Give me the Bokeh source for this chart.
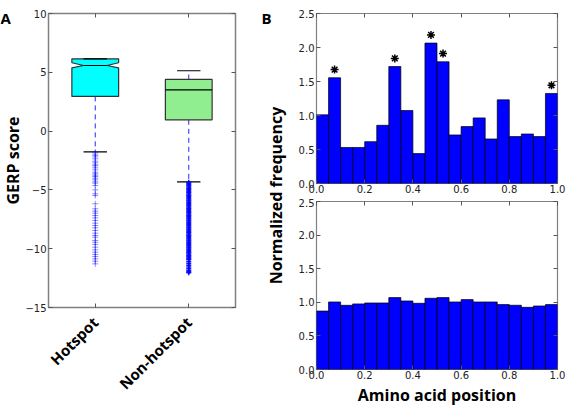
import math
from bokeh.plotting import figure
from bokeh.models import Range1d, FixedTicker, LinearAxis, NumeralTickFormatter, Label
from bokeh.layouts import row, column
from bokeh.embed import file_html
from bokeh.resources import INLINE
from bokeh.core.properties import value

# ---------------- Panel A data (GERP score box plots) ----------------
groups = ["Hotspot", "Non-hotspot"]
positions = [1, 2]
q1 = [2.95, 0.96]
medians = [5.58, 3.51]
q3 = [6.15, 4.39]
whisker_low = [-1.76, -4.32]
whisker_high = [6.15, 5.13]
notched = [True, False]
notch_low = [5.38, None]
notch_high = [5.81, None]
box_colors = ["#00FFFF", "#90EE90"]

hotspot_outliers = [-1.79, -1.95, -2.07, -2.2, -2.36, -2.56, -2.7, -2.87, -2.95, -3.12,
                    -3.29, -3.49, -3.63, -3.75, -3.86, -4.0, -4.14, -4.31, -4.43, -4.63,
                    -5.0, -5.33, -5.48, -6.18, -6.61, -6.81, -6.98, -7.18, -7.38, -7.6,
                    -7.83, -8.03, -8.22, -8.45, -8.68, -8.88, -9.02, -9.3, -9.45, -9.64,
                    -9.87, -10.1, -10.3, -10.49, -10.66, -10.86, -11.06, -11.29]
nonhotspot_outliers = [-4.35, -4.45, -4.55, -4.65, -4.75, -4.85, -4.95, -5.05, -5.15, -5.25,
                       -5.35, -5.45, -5.55, -5.65, -5.75, -5.85, -5.95, -6.05, -6.15, -6.25,
                       -6.35, -6.45, -6.55, -6.65, -6.75, -6.85, -6.95, -7.05, -7.15, -7.25,
                       -7.35, -7.45, -7.55, -7.65, -7.75, -7.85, -7.95, -8.05, -8.15, -8.25,
                       -8.35, -8.45, -8.55, -8.65, -8.75, -8.85, -8.95, -9.05, -9.15, -9.25,
                       -9.35, -9.45, -9.55, -9.65, -9.75, -9.85, -9.95, -10.05, -10.15, -10.25,
                       -10.35, -10.45, -10.55, -10.65, -10.75, -10.85, -10.95, -11.1, -11.25,
                       -11.4, -11.55, -11.7, -11.85, -11.95, -12.05]
gerp_ticks = [-15, -10, -5, 0, 5, 10]
gerp_tick_labels = ["\u221215", "\u221210", "\u22125", "0", "5", "10"]

# ---------------- Panel B data (normalized position histograms) ----------------
bin_edges = [0.0, 0.05, 0.1, 0.15, 0.2, 0.25, 0.3, 0.35, 0.4, 0.45, 0.5,
             0.55, 0.6, 0.65, 0.7, 0.75, 0.8, 0.85, 0.9, 0.95, 1.0]
hotspot_freq = [1.01, 1.555, 0.53, 0.53, 0.615, 0.856, 1.72, 1.073, 0.44, 2.065,
                1.79, 0.714, 0.837, 0.965, 0.655, 1.23, 0.69, 0.728, 0.69, 1.324]
background_freq = [0.87, 1.005, 0.955, 0.976, 0.99, 0.99, 1.07, 1.02, 0.985, 1.06,
                   1.07, 1.005, 1.04, 1.005, 1.005, 0.966, 0.956, 0.925, 0.945, 0.966]
star_bins = [1, 6, 9, 10, 19]
pos_ticks = [0.0, 0.2, 0.4, 0.6, 0.8, 1.0]
freq_ticks = [0.0, 0.5, 1.0, 1.5, 2.0, 2.5]

BOLD_FONT = "Open Sans"
TICK_FONT = "DejaVu Sans"
FRAME_GRAY = "#808080"
H = 408
A_TOP, A_BOTTOM = 13, 101   # panel A borders (frame spans page y 13..307)


def blank_fig(w):
    # label strip whose data coordinates equal page pixels (y measured upward from page bottom)
    f = figure(width=w, height=H, x_range=Range1d(0, w), y_range=Range1d(A_BOTTOM, H - A_TOP),
               toolbar_location=None, output_backend="svg", title=None,
               min_border_left=0, min_border_right=0,
               min_border_top=A_TOP, min_border_bottom=A_BOTTOM)
    f.axis.visible = False
    f.grid.visible = False
    f.outline_line_color = None
    return f


def corner_label(f, x, text):
    f.add_layout(Label(x=x, y=H - 7, text=text, text_font=BOLD_FONT, text_font_style="bold",
                       text_font_size="15px", text_align="left", text_baseline="top",
                       text_color="black"))


def style_axis(ax, size="10px"):
    ax.major_tick_in = 4
    ax.major_tick_out = 0
    ax.minor_tick_line_color = None
    ax.axis_line_color = None
    ax.major_tick_line_color = "#555555"
    ax.major_label_text_font = TICK_FONT
    ax.major_label_text_font_size = size
    ax.major_label_text_color = "#222222"
    ax.major_label_standoff = 2


def inner_axes(p, xticks, yticks):
    for side, ticks in (("above", xticks), ("right", yticks)):
        ax = LinearAxis(ticker=FixedTicker(ticks=ticks))
        style_axis(ax, "0px")
        ax.major_label_overrides = {t: "" for t in ticks}
        ax.major_label_standoff = 0
        p.add_layout(ax, side)


# ---------------- left label strip ----------------
figL = blank_fig(22)
corner_label(figL, 0, "A")
figL.text(x=[12], y=[H - 160], text=["GERP score"], angle=math.pi / 2, text_font=value(BOLD_FONT),
          text_font_style="bold", text_font_size="16px", text_align="center",
          text_baseline="middle", text_color="black")

# ---------------- Panel A ----------------
pA = figure(width=238, height=H, x_range=Range1d(0.5, 2.5), y_range=Range1d(-15, 10),
            toolbar_location=None, output_backend="svg", title=None,
            min_border_left=23, min_border_right=25, min_border_top=A_TOP, min_border_bottom=A_BOTTOM)
pA.grid.visible = False
pA.outline_line_color = FRAME_GRAY
pA.outline_line_width = 1.5

half = 0.25
xs_boxes, ys_boxes, med_x0, med_x1 = [], [], [], []
for i, pos in enumerate(positions):
    L, R = pos - half, pos + half
    if notched[i]:
        cl, cr = pos - half / 2, pos + half / 2
        xs_boxes.append([L, R, R, cr, R, R, L, L, cl, L, L])
        ys_boxes.append([q1[i], q1[i], notch_low[i], medians[i], notch_high[i], q3[i],
                         q3[i], notch_high[i], medians[i], notch_low[i], q1[i]])
        med_x0.append(cl)
        med_x1.append(cr)
    else:
        xs_boxes.append([L, R, R, L, L])
        ys_boxes.append([q1[i], q1[i], q3[i], q3[i], q1[i]])
        med_x0.append(L)
        med_x1.append(R)

# whiskers
pA.segment(x0=positions, y0=q1, x1=positions, y1=whisker_low, line_color="#0000FF",
           line_dash="5 4", line_width=1, line_alpha=0.85)
pA.segment(x0=positions, y0=q3, x1=positions, y1=whisker_high, line_color="#0000FF",
           line_dash="5 4", line_width=1, line_alpha=0.85)
# boxes
pA.patches(xs=xs_boxes, ys=ys_boxes, fill_color=box_colors, line_color="#333333", line_width=1.2)
# medians
pA.segment(x0=med_x0, y0=medians, x1=med_x1, y1=medians, line_color="black", line_width=1.2)
# caps
cap_x0 = [p - half / 2 for p in positions]
cap_x1 = [p + half / 2 for p in positions]
pA.segment(x0=cap_x0, y0=whisker_low, x1=cap_x1, y1=whisker_low, line_color="black", line_width=1.2)
pA.segment(x0=cap_x0, y0=whisker_high, x1=cap_x1, y1=whisker_high, line_color="black", line_width=1.2)
# outliers
pA.scatter(x=[positions[0]] * len(hotspot_outliers), y=hotspot_outliers, marker="cross",
           size=6, line_color="#0000FF", line_alpha=0.45, line_width=1)
pA.scatter(x=[positions[1]] * len(nonhotspot_outliers), y=nonhotspot_outliers, marker="cross",
           size=5, line_color="#0000FF", line_alpha=0.9, line_width=1.5)

pA.xaxis.ticker = FixedTicker(ticks=positions)
pA.xaxis.major_label_overrides = {p: g for p, g in zip(positions, groups)}
pA.yaxis.ticker = FixedTicker(ticks=gerp_ticks)
pA.yaxis.major_label_overrides = {t: s for t, s in zip(gerp_ticks, gerp_tick_labels)}
for ax in pA.xaxis + pA.yaxis:
    style_axis(ax)
pA.xaxis.major_label_orientation = math.pi / 4
pA.xaxis.major_label_text_font = BOLD_FONT
pA.xaxis.major_label_text_font_style = "bold"
pA.xaxis.major_label_text_font_size = "15px"
pA.xaxis.major_label_text_color = "black"
pA.xaxis.major_label_standoff = 12
inner_axes(pA, positions, gerp_ticks)

# ---------------- middle label strip ----------------
figM = blank_fig(30)
corner_label(figM, 1, "B")
figM.text(x=[15], y=[H - 195], text=["Normalized frequency"], angle=math.pi / 2,
          text_font=value(BOLD_FONT), text_font_style="bold", text_font_size="16px",
          text_align="center", text_baseline="middle", text_color="black")


# ---------------- Panel B ----------------
def hist_fig(h, top, bottom, freqs, xlabel=None):
    p = figure(width=276, height=h, x_range=Range1d(0, 1), y_range=Range1d(0, 2.5),
               toolbar_location=None, output_backend="svg", title=None,
               min_border_left=26, min_border_right=9, min_border_top=top, min_border_bottom=bottom)
    p.grid.visible = False
    p.outline_line_color = FRAME_GRAY
    p.outline_line_width = 1.2
    p.quad(left=bin_edges[:-1], right=bin_edges[1:], bottom=0, top=freqs,
           fill_color="#0000FF", line_color="black", line_width=0.7)
    p.xaxis.ticker = FixedTicker(ticks=pos_ticks)
    p.yaxis.ticker = FixedTicker(ticks=freq_ticks)
    p.xaxis.formatter = NumeralTickFormatter(format="0.0")
    p.yaxis.formatter = NumeralTickFormatter(format="0.0")
    for ax in p.xaxis + p.yaxis:
        style_axis(ax)
    p.xaxis.major_label_standoff = 1
    if xlabel:
        p.xaxis.axis_label = xlabel
        p.xaxis.axis_label_text_font = BOLD_FONT
        p.xaxis.axis_label_text_font_style = "bold"
        p.xaxis.axis_label_text_font_size = "16px"
        p.xaxis.axis_label_text_color = "black"
        p.xaxis.axis_label_standoff = 2
    inner_axes(p, pos_ticks, freq_ticks)
    return p


pB1 = hist_fig(198, 13, 15, hotspot_freq)
star_x = [(bin_edges[b] + bin_edges[b + 1]) / 2 for b in star_bins]
star_y = [hotspot_freq[b] + 0.12 for b in star_bins]
pB1.scatter(x=star_x, y=star_y, marker="asterisk", size=8, line_color="black", line_width=1.5)

pB2 = hist_fig(210, 3, 35, background_freq, xlabel="Amino acid position")

layout = row(figL, pA, figM, column(pB1, pB2))
open("out.html", "w").write(file_html(layout, INLINE))
